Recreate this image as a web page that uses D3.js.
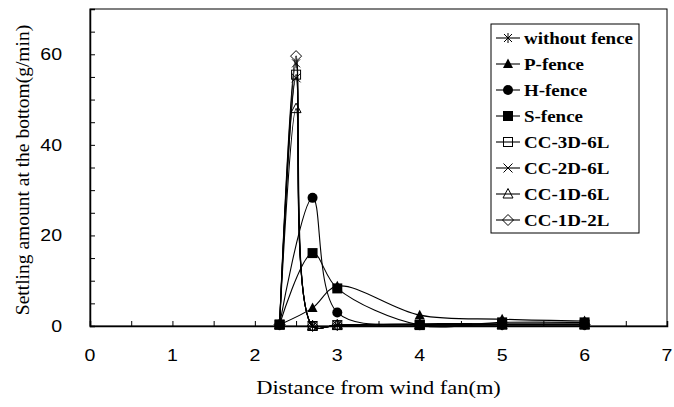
<!DOCTYPE html>
<html>
<head>
<meta charset="utf-8">
<script src="https://cdn.jsdelivr.net/npm/d3@7"></script>
<style>
  body { margin: 0; background: #fff; }
  svg { display: block; }
</style>
</head>
<body>
<div id="chart"></div>
<script>
// Data
var xFull = [2.3, 2.5, 2.7, 3, 4, 5, 6];
var xFence = [2.3, 2.7, 3, 4, 5, 6];

var withoutFence = [0.3, 58, 0, 0.2, 0.5, 0.5, 0.5];
var pFence = [0.3, 4, 8.8, 2.4, 1.5, 1.1];
var hFence = [0.3, 28.3, 3, 0.2, 0.3, 0.3];
var sFence = [0.3, 16.1, 8.3, 0.2, 0.8, 0.8];
var cc3d6l = [0.3, 55.5, 0, 0.2, 0.3, 0.3, 0.3];
var cc2d6l = [0.3, 54.8, 0, 0.2, 0.3, 0.3, 0.3];
var cc1d6l = [0.3, 48, 0, 0.2, 0.3, 0.3, 0.3];
var cc1d2l = [0.3, 59.6, 0, 0.2, 0.3, 0.3, 0.3];

var seriesNames = ["without fence", "P-fence", "H-fence", "S-fence",
  "CC-3D-6L", "CC-2D-6L", "CC-1D-6L", "CC-1D-2L"];
var markers = ["asterisk", "triUp", "circle", "square",
  "openSquare", "cross", "openTri", "openDiamond"];

var xTicks = [0, 1, 2, 3, 4, 5, 6, 7];
var yTicks = [0, 20, 40, 60];

var series = [
  { name: seriesNames[0], marker: markers[0], x: xFull, y: withoutFence },
  { name: seriesNames[1], marker: markers[1], x: xFence, y: pFence },
  { name: seriesNames[2], marker: markers[2], x: xFence, y: hFence },
  { name: seriesNames[3], marker: markers[3], x: xFence, y: sFence },
  { name: seriesNames[4], marker: markers[4], x: xFull, y: cc3d6l },
  { name: seriesNames[5], marker: markers[5], x: xFull, y: cc2d6l },
  { name: seriesNames[6], marker: markers[6], x: xFull, y: cc1d6l },
  { name: seriesNames[7], marker: markers[7], x: xFull, y: cc1d2l }
];

var W = 674, H = 407;
var margin = { top: 9, right: 7, bottom: 81, left: 90 };
var width = W - margin.left - margin.right,
  height = H - margin.top - margin.bottom;

// the source picture is a bit wider than tall, so text is stretched sideways
var stretch = 1.15;
var sans = "'Liberation Sans', Arial, sans-serif";
var serif = "'Liberation Serif', 'Times New Roman', serif";

var svg = d3.select("#chart")
  .append("svg")
  .attr("width", W)
  .attr("height", H);

var g = svg.append("g")
  .attr("transform", "translate(" + margin.left + "," + margin.top + ")");

var x = d3.scaleLinear().domain([0, 7]).range([0, width]);
var y = d3.scaleLinear().domain([0, 70]).range([height, 0]);

// text placed at (px,py) and stretched horizontally
function label(parent, px, py, txt, anchor, font, size, weight) {
  return parent.append("g")
    .attr("transform", "translate(" + px + "," + py + ") scale(" + stretch + ",1)")
    .append("text")
    .attr("text-anchor", anchor)
    .style("font-family", font)
    .style("font-size", size + "px")
    .style("font-weight", weight || "normal")
    .text(txt);
}

// frame
g.append("rect")
  .attr("x", 0).attr("y", 0)
  .attr("width", width).attr("height", height)
  .attr("fill", "none")
  .attr("stroke", "#000")
  .attr("stroke-width", 1);

// x axis (ticks inward)
var xAxis = d3.axisTop(x)
  .tickValues(d3.range(0, 7.01, 0.5))
  .tickSize(5)
  .tickFormat("");
g.append("g")
  .attr("transform", "translate(0," + height + ")")
  .call(xAxis)
  .call(function(s) {
    s.select(".domain").attr("stroke-width", 1.5);
  });

xTicks.forEach(function(d) {
  label(g, x(d), height + 35, d, "middle", sans, 17);
});

// y axis (ticks inward)
var yAxis = d3.axisRight(y)
  .tickValues(d3.range(0, 70.01, 5))
  .tickSize(5)
  .tickFormat("");
g.append("g")
  .call(yAxis)
  .call(function(s) {
    s.select(".domain").attr("stroke-width", 1.5);
  });

yTicks.forEach(function(d) {
  label(g, -28, y(d) + 6, d, "end", sans, 17);
});

// axis titles
label(svg, margin.left + width / 2, 394, "Distance from wind fan(m)", "middle", serif, 19.5);

svg.append("text")
  .attr("transform", "translate(29,170) rotate(-90)")
  .attr("text-anchor", "middle")
  .style("font-family", serif)
  .style("font-size", "19.5px")
  .text("Settling amount at the bottom(g/min)");

// marker drawing
function drawMarker(sel, type) {
  var r = 5;
  if (type == "asterisk") {
    sel.append("path")
      .attr("d", "M-4,-4L4,4M-4,4L4,-4M0,-5L0,5")
      .attr("stroke", "#000").attr("stroke-width", 1).attr("fill", "none");
  } else if (type == "triUp") {
    sel.append("path").attr("d", "M0,-5.5L5,4L-5,4Z").attr("fill", "#000");
  } else if (type == "circle") {
    sel.append("circle").attr("r", r).attr("fill", "#000");
  } else if (type == "square") {
    sel.append("rect").attr("x", -r).attr("y", -r)
      .attr("width", 2 * r).attr("height", 2 * r).attr("fill", "#000");
  } else if (type == "openSquare") {
    sel.append("rect").attr("x", -4.5).attr("y", -4.5)
      .attr("width", 9).attr("height", 9)
      .attr("fill", "none").attr("stroke", "#000").attr("stroke-width", 1);
  } else if (type == "cross") {
    sel.append("path").attr("d", "M-4.5,-4.5L4.5,4.5M-4.5,4.5L4.5,-4.5")
      .attr("stroke", "#000").attr("stroke-width", 1).attr("fill", "none");
  } else if (type == "openTri") {
    sel.append("path").attr("d", "M0,-5.5L5,4L-5,4Z")
      .attr("fill", "none").attr("stroke", "#000").attr("stroke-width", 1);
  } else if (type == "openDiamond") {
    sel.append("path").attr("d", "M0,-5.5L5.5,0L0,5.5L-5.5,0Z")
      .attr("fill", "none").attr("stroke", "#000").attr("stroke-width", 1);
  }
}

var line = d3.line()
  .x(function(d) { return x(d[0]); })
  .y(function(d) { return y(d[1]); })
  .curve(d3.curveCatmullRom.alpha(0.5));

var seriesG = g.selectAll(".series")
  .data(series)
  .enter().append("g")
  .attr("class", "series");

seriesG.append("path")
  .attr("d", function(s) {
    return line(s.x.map(function(xv, i) { return [xv, s.y[i]]; }));
  })
  .attr("fill", "none")
  .attr("stroke", "#000")
  .attr("stroke-width", 1.1);

seriesG.each(function(s) {
  var grp = d3.select(this);
  s.x.forEach(function(xv, i) {
    var m = grp.append("g")
      .attr("transform", "translate(" + x(xv) + "," + y(s.y[i]) + ")");
    drawMarker(m, s.marker);
  });
});

// legend
var legend = svg.append("g")
  .attr("transform", "translate(491,24)");

legend.append("rect")
  .attr("width", 148).attr("height", 209)
  .attr("fill", "#fff")
  .attr("stroke", "#000")
  .attr("stroke-width", 1);

var rows = legend.selectAll(".row")
  .data(series)
  .enter().append("g")
  .attr("class", "row")
  .attr("transform", function(d, i) { return "translate(0," + (14 + i * 26) + ")"; });

rows.append("line")
  .attr("x1", 5).attr("x2", 29)
  .attr("stroke", "#000").attr("stroke-width", 1.1);

rows.each(function(s) {
  var row = d3.select(this);
  var m = row.append("g").attr("transform", "translate(17,0)");
  drawMarker(m, s.marker);
  label(row, 33, 6, s.name, "start", serif, 16.5, "bold");
});
</script>
</body>
</html>
